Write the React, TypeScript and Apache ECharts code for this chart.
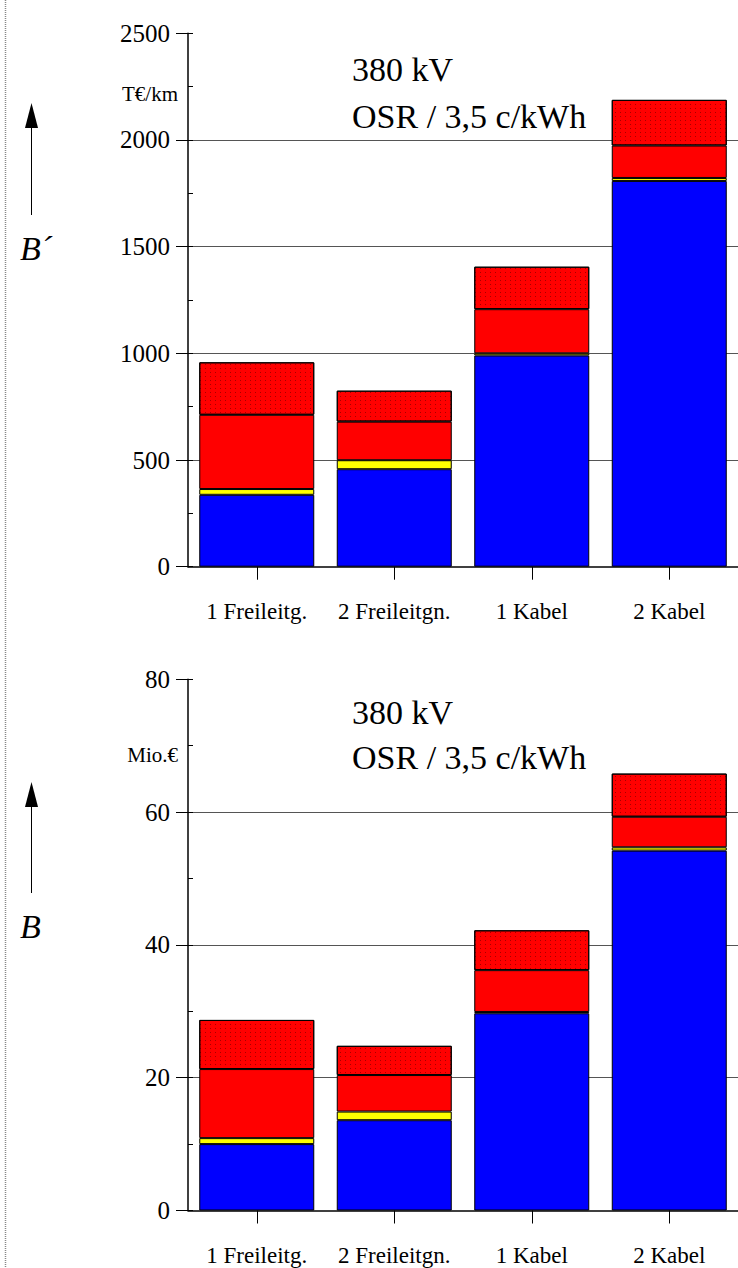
import React, { useEffect, useRef } from 'react';
import * as echarts from 'echarts';

const categories = ['1 Freileitg.', '2 Freileitgn.', '1 Kabel', '2 Kabel'];

// Upper chart: B´ in T€/km
const topBlue = [337, 457, 990, 1808];
const topYellow = [27, 42, 10, 14];
const topRed = [348, 181, 207, 152];
const topDotted = [246, 145, 199, 214];
const topAxis = { min: 0, max: 2500, interval: 500, minor: 250 };

// Lower chart: B in Mio.€
const botBlue = [10.0, 13.6, 29.7, 54.2];
const botYellow = [0.9, 1.3, 0.2, 0.5];
const botRed = [10.4, 5.5, 6.3, 4.6];
const botDotted = [7.4, 4.4, 6.0, 6.5];
const botAxis = { min: 0, max: 80, interval: 20, minor: 10 };

const titleLines = ['380 kV', 'OSR / 3,5 c/kWh'];
const unitTop = 'T€/km';
const unitBot = 'Mio.€';
const symTop = 'B\u00B4';
const symBot = 'B';

const FONT = 'Liberation Serif, Times New Roman, serif';

export default function App() {
  const ref = useRef<HTMLDivElement>(null);
  useEffect(() => {
    if (!ref.current) return;
    const chart = echarts.init(ref.current, undefined, { renderer: 'svg' });

    const grids = [
      { left: 188, top: 33.3, width: 555, height: 533.4 },
      { left: 188, top: 679.3, width: 555, height: 531.2 },
    ];

    const xAxis = [0, 1].map((gi) => ({
      type: 'category',
      gridIndex: gi,
      data: categories,
      boundaryGap: true,
      axisLine: { show: true, lineStyle: { color: '#000', width: 1.5 } },
      axisTick: { show: true, alignWithLabel: true, length: 13, lineStyle: { color: '#000', width: 1 } },
      axisLabel: { color: '#000', fontSize: 23, fontFamily: FONT, margin: 33, interval: 0 },
      splitLine: { show: false },
    }));

    const mkMain = (gi: number, a: any) => ({
      type: 'value',
      gridIndex: gi,
      position: 'left',
      min: a.min,
      max: a.max,
      interval: a.interval,
      axisLine: { show: true, lineStyle: { color: '#000', width: 1.5 } },
      axisTick: { show: true, inside: false, length: 12, lineStyle: { color: '#000', width: 1 } },
      axisLabel: {
        color: '#000',
        fontSize: 25,
        fontFamily: FONT,
        margin: 18,
        formatter: (v: number) => String(v),
      },
      splitLine: { show: true, showMinLine: false, showMaxLine: false, lineStyle: { color: '#555', width: 1 } },
    });
    const mkMinor = (gi: number, a: any) => ({
      type: 'value',
      gridIndex: gi,
      position: 'left',
      offset: 0,
      min: a.min,
      max: a.max,
      interval: a.minor,
      axisLine: { show: false },
      axisTick: { show: true, inside: true, length: 5, lineStyle: { color: '#000', width: 1 } },
      axisLabel: { show: false },
      splitLine: { show: false },
    });

    const yAxis = [mkMain(0, topAxis), mkMinor(0, topAxis), mkMain(1, botAxis), mkMinor(1, botAxis)];

    const dotDecal = {
      symbol: 'rect',
      symbolSize: 0.7,
      color: '#000',
      dashArrayX: [1, 4],
      dashArrayY: [1, 3],
      rotation: 0,
    };

    const mkSeries = (gi: number, yi: number, stack: string, arrs: number[][]) => {
      const colors = ['#0000ff', '#ffff00', '#ff0000', '#ff0000'];
      return arrs.map((d, i) => {
        const itemStyle: any = {
          color: colors[i],
          borderColor: '#000',
          borderWidth: 1,
        };
        if (i === 3) itemStyle.decal = dotDecal;
        return {
          type: 'bar',
          xAxisIndex: gi,
          yAxisIndex: yi,
          stack,
          barWidth: 115,
          data: d,
          itemStyle,
          emphasis: { disabled: true },
        };
      });
    };

    const series = [
      ...mkSeries(0, 0, 'top', [topBlue, topYellow, topRed, topDotted]),
      ...mkSeries(1, 2, 'bot', [botBlue, botYellow, botRed, botDotted]),
    ];

    const txt = (text: string, x: number, y: number, size: number, align = 'left', italic = false) => ({
      type: 'text',
      x,
      y,
      z: 100,
      style: {
        text,
        fill: '#000',
        font: `${italic ? 'italic ' : ''}${size}px ${FONT}`,
        textAlign: align,
        textVerticalAlign: 'middle',
      },
    });

    const arrow = (yBottom: number, yBase: number, yTip: number) => [
      { type: 'line', z: 100, shape: { x1: 31.5, y1: yBottom, x2: 31.5, y2: yBase }, style: { stroke: '#000', lineWidth: 1 } },
      { type: 'polygon', z: 100, shape: { points: [[25, yBase], [38, yBase], [31.5, yTip]] }, style: { fill: '#000' } },
    ];

    const graphic = [
      { type: 'line', shape: { x1: 5.5, y1: 0, x2: 5.5, y2: 1268 }, style: { stroke: '#888', lineWidth: 1.5, lineDash: [1, 1] } },
      txt(titleLines[0], 352, 69, 34),
      txt(titleLines[1], 352, 116, 34),
      txt(titleLines[0], 352, 712, 34),
      txt(titleLines[1], 352, 757, 34),
      txt(unitTop, 178, 94, 21, 'right'),
      txt(unitBot, 178, 755, 21, 'right'),
      txt(symTop, 20, 248, 34, 'left', true),
      txt(symBot, 20, 926, 34, 'left', true),
      ...arrow(215, 128, 103),
      ...arrow(893, 807, 782),
    ];

    chart.setOption({
      animation: false,
      backgroundColor: '#fff',
      grid: grids,
      xAxis,
      yAxis,
      series,
      graphic,
    } as any);

    return () => chart.dispose();
  }, []);

  return (
    <div
      ref={ref}
      style={{ position: 'absolute', left: 0, top: 0, width: 738, height: 1268 }}
    />
  );
}
